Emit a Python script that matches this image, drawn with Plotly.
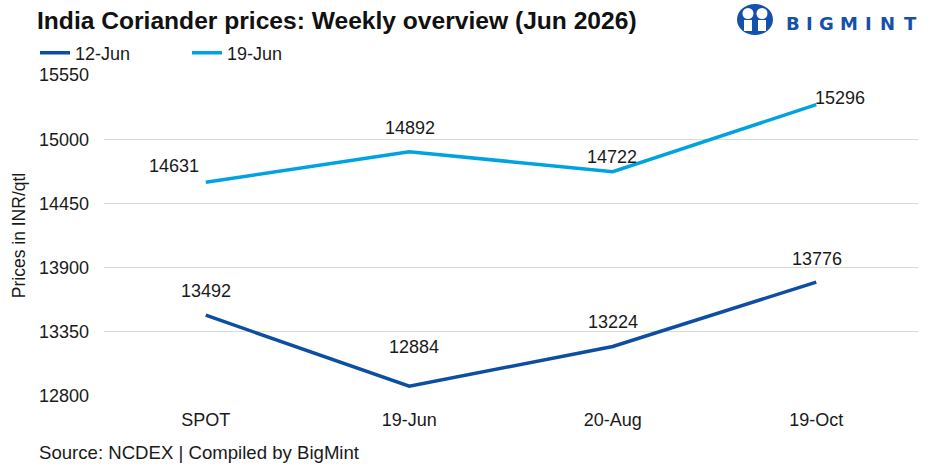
import plotly.graph_objects as go

categories = ["SPOT", "19-Jun", "20-Aug", "19-Oct"]
series_names = ["12-Jun", "19-Jun"]
prices_12jun = [13492, 12884, 13224, 13776]
prices_19jun = [14631, 14892, 14722, 15296]
y_ticks = [12800, 13350, 13900, 14450, 15000, 15550]

colors = ["#0B4EA2", "#00A3E0"]
# label offsets (px) relative to each point
label_shift_12 = [(0, 24), (5, 39), (0, 25), (1, 23)]
label_shift_19 = [(-32, 16), (1, 24), (-1, 15), (24, 7)]

W, H = 940, 470
L, R, T, B = 104, 22, 75, 74
FONT = "Liberation Sans, Arial, sans-serif"
TXT = "#1a1a1a"


def px_to_paper_x(px):
    return (px - L) / (W - L - R)


def px_to_paper_y(py):
    return (H - B - py) / (H - T - B)


fig = go.Figure()
for name, vals, col in zip(series_names, [prices_12jun, prices_19jun], colors):
    fig.add_trace(go.Scatter(x=categories, y=vals, name=name, mode="lines",
                             line=dict(color=col, width=3.5), hoverinfo="skip"))

ann = []
for vals, shifts in [(prices_12jun, label_shift_12), (prices_19jun, label_shift_19)]:
    for c, v, (dx, dy) in zip(categories, vals, shifts):
        ann.append(dict(x=c, y=v, xref="x", yref="y", text=str(v), showarrow=False,
                        xshift=dx, yshift=dy, font=dict(size=18, color=TXT, family=FONT)))

# Title
ann.append(dict(x=px_to_paper_x(35), y=px_to_paper_y(21), xref="paper", yref="paper",
                xanchor="left", yanchor="middle", showarrow=False,
                text="<b>India Coriander prices: Weekly overview (Jun 2026)</b>",
                font=dict(size=24.6, color="#111111", family=FONT)))
# Source
ann.append(dict(x=px_to_paper_x(37), y=px_to_paper_y(453), xref="paper", yref="paper",
                xanchor="left", yanchor="middle", showarrow=False,
                text="Source: NCDEX | Compiled by BigMint",
                font=dict(size=18.6, color=TXT, family=FONT)))

# Logo text
logo_letters = "BIGMINT"
logo_x = [793, 809, 826, 849, 868, 887, 910]
for ch, lx in zip(logo_letters, logo_x):
    ann.append(dict(x=px_to_paper_x(lx), y=px_to_paper_y(23.5), xref="paper", yref="paper",
                    xanchor="center", yanchor="middle", showarrow=False, text="<b>" + ch + "</b>",
                    font=dict(size=18, color="#1550AA", family="DejaVu Sans, sans-serif")))

shapes = [
    dict(type="circle", xref="paper", yref="paper",
         x0=px_to_paper_x(737), x1=px_to_paper_x(773), y0=px_to_paper_y(35), y1=px_to_paper_y(4),
         fillcolor="#1550AA", line=dict(width=0)),
    dict(type="circle", xref="paper", yref="paper",
         x0=px_to_paper_x(742.5), x1=px_to_paper_x(753.5), y0=px_to_paper_y(19), y1=px_to_paper_y(8),
         fillcolor="white", line=dict(width=0)),
    dict(type="circle", xref="paper", yref="paper",
         x0=px_to_paper_x(756.5), x1=px_to_paper_x(767.5), y0=px_to_paper_y(19), y1=px_to_paper_y(8),
         fillcolor="white", line=dict(width=0)),
    dict(type="rect", xref="paper", yref="paper",
         x0=px_to_paper_x(744), x1=px_to_paper_x(752), y0=px_to_paper_y(31), y1=px_to_paper_y(20),
         fillcolor="white", line=dict(width=0)),
    dict(type="rect", xref="paper", yref="paper",
         x0=px_to_paper_x(758), x1=px_to_paper_x(766), y0=px_to_paper_y(31), y1=px_to_paper_y(20),
         fillcolor="white", line=dict(width=0)),
]

fig.update_layout(
    width=W, height=H,
    margin=dict(l=L, r=R, t=T, b=B, autoexpand=False),
    paper_bgcolor="white", plot_bgcolor="white",
    font=dict(family=FONT, size=18, color=TXT),
    showlegend=True,
    legend=dict(orientation="h", x=px_to_paper_x(35), y=px_to_paper_y(53), xanchor="left",
                yanchor="middle", font=dict(size=18, color=TXT), bgcolor="rgba(0,0,0,0)",
                entrywidth=107, entrywidthmode="pixels", tracegroupgap=0),
    annotations=ann,
    shapes=shapes,
    xaxis=dict(type="category", showgrid=False, showline=False, zeroline=False,
               ticks="", ticklabelstandoff=11, tickfont=dict(size=18, color=TXT),
               range=[-0.5, 3.5], fixedrange=True),
    yaxis=dict(range=[12800, 15550], tickvals=y_ticks, ticktext=[str(v) for v in y_ticks],
               showgrid=True, gridcolor="#d9d9d9", gridwidth=1, zeroline=False, showline=False,
               ticks="", ticklabelstandoff=14, tickfont=dict(size=18, color=TXT),
               title=dict(text="Prices in INR/qtl", font=dict(size=17.5, color=TXT), standoff=8),
               automargin=False, fixedrange=True),
)

fig.write_html("out.html")
